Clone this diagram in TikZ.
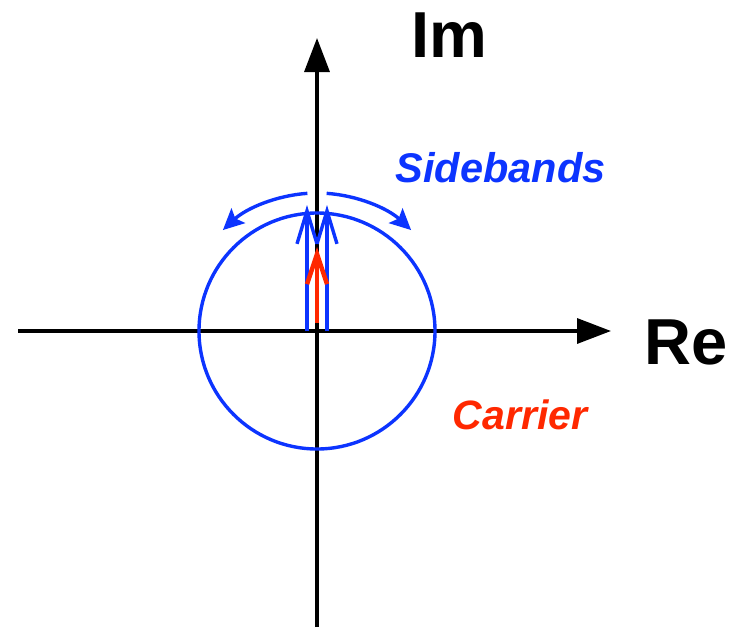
\documentclass[tikz,border=0pt]{standalone}
\usepackage{fontspec}
\setmainfont{Liberation Sans}
\usetikzlibrary{arrows.meta}
\definecolor{bandblue}{RGB}{12,52,255}
\definecolor{carred}{RGB}{255,40,0}
\tikzset{every picture/.style={line width=3.4pt}}

\begin{document}
\begin{tikzpicture}[x=1pt,y=-1pt]
    \useasboundingbox (0,0) rectangle (738,627);
    % axes
    \coordinate (o) at (317,331);
    \coordinate (xl) at (18,331);
    \coordinate (xr) at (611,331);
    \coordinate (yb) at (317,627);
    \coordinate (yt) at (317,38);
    \draw[-{Triangle[length=34pt,width=25pt]}] (xl) -- (xr);
    \draw[-{Triangle[length=34pt,width=25pt]}] (yb) -- (yt);
    \node[anchor=base west, inner sep=0pt, font=\bfseries\fontsize{65}{65}\selectfont] (im) at (410,57) {Im};
    \node[anchor=base west, inner sep=0pt, font=\bfseries\fontsize{65}{65}\selectfont] (re) at (643,364) {Re};
    % circle of the sidebands
    \draw[bandblue] (o) circle[radius=118];
    \draw[bandblue, -{Straight Barb[length=33pt,width=20pt]}] (307,331) -- (307,205);
    \draw[bandblue, -{Straight Barb[length=33pt,width=20pt]}] (327,331) -- (327,205);
    \draw[carred, line width=4.5pt, -{Straight Barb[length=30pt,width=20pt]}] (317,323) -- (317,247);
    % rotation of the sidebands
    \draw[bandblue, -{Stealth[length=21pt,width=20pt,inset=4pt]}] ([shift={(-94:138)}]o) arc[start angle=-94, end angle=-133, radius=138];
    \draw[bandblue, -{Stealth[length=21pt,width=20pt,inset=4pt]}] ([shift={(-86:138)}]o) arc[start angle=-86, end angle=-47, radius=138];
    \node[anchor=base west, inner sep=0pt, bandblue, font=\bfseries\itshape\fontsize{41.5}{41.5}\selectfont] (sb) at (394,182) {Sidebands};
    \node[anchor=base west, inner sep=0pt, carred, font=\bfseries\itshape\fontsize{41}{41}\selectfont] (ca) at (451,429) {Carrier};
\end{tikzpicture}
\end{document}
